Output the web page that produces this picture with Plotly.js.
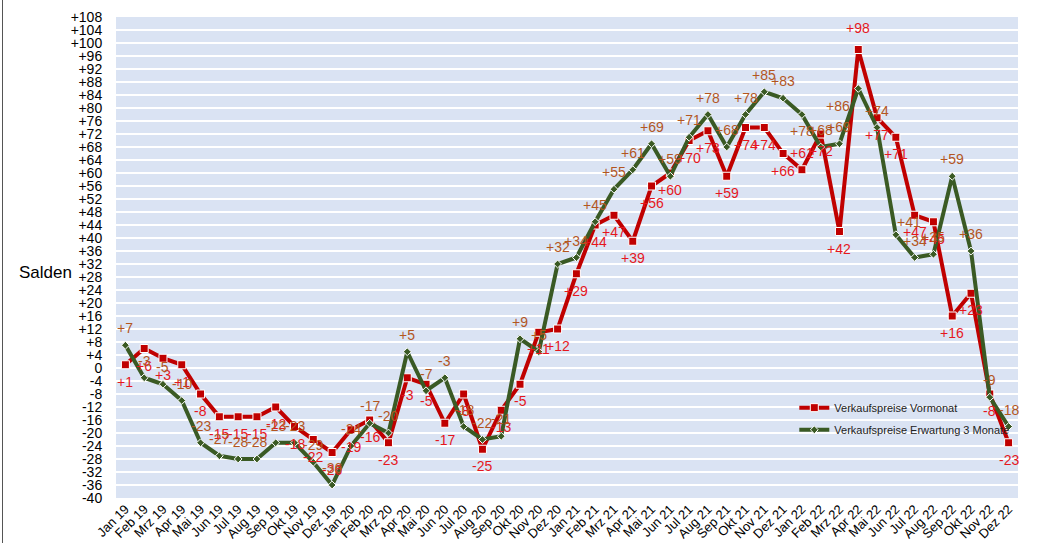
<!DOCTYPE html>
<html>
<head>
<meta charset="utf-8">
<script src="https://cdn.plot.ly/plotly-3.0.1.min.js"></script>
<style>
html,body{margin:0;padding:0;background:#fff;}
#chart{width:1038px;height:543px;}
#frame{position:absolute;left:2px;top:0;width:1px;height:543px;background:#555;}
</style>
</head>
<body>
<div id="frame"></div>
<div id="chart"></div>
<script>
var months = ["Jan 19","Feb 19","Mrz 19","Apr 19","Mai 19","Jun 19","Jul 19","Aug 19","Sep 19","Okt 19","Nov 19","Dez 19",
"Jan 20","Feb 20","Mrz 20","Apr 20","Mai 20","Jun 20","Jul 20","Aug 20","Sep 20","Okt 20","Nov 20","Dez 20",
"Jan 21","Feb 21","Mrz 21","Apr 21","Mai 21","Jun 21","Jul 21","Aug 21","Sep 21","Okt 21","Nov 21","Dez 21",
"Jan 22","Feb 22","Mrz 22","Apr 22","Mai 22","Jun 22","Jul 22","Aug 22","Sep 22","Okt 22","Nov 22","Dez 22"];

var vormonat = [1,6,3,1,-8,-15,-15,-15,-12,-18,-22,-26,
-19,-16,-23,-3,-5,-17,-8,-25,-13,-5,11,12,
29,44,47,39,56,60,70,73,59,74,74,66,
61,72,42,98,77,71,47,45,16,23,-8,-23];

var erwartung = [7,-3,-5,-10,-23,-27,-28,-28,-23,-23,-29,-36,
-24,-17,-20,5,-7,-3,-18,-22,-21,9,5,32,
34,45,55,61,69,59,71,78,68,78,85,83,
78,68,69,86,74,41,34,35,59,36,-9,-18];

var yTickVals = [-40,-36,-32,-28,-24,-20,-16,-12,-8,-4,0,4,8,12,16,20,24,28,32,36,40,44,48,52,56,60,64,68,72,76,80,84,88,92,96,100,104,108];
var yTickText = ["-40","-36","-32","-28","-24","-20","-16","-12","-8","-4","0","+4","+8","+12","+16","+20","+24","+28","+32","+36","+40","+44","+48","+52","+56","+60","+64","+68","+72","+76","+80","+84","+88","+92","+96","+100","+104","+108"];

var seriesNames = ["Verkaufspreise Vormonat","Verkaufspreise Erwartung 3 Monate"];

function fmt(v){ return v > 0 ? "+" + v : String(v); }

var FONT = "Arial, 'Liberation Sans', sans-serif";
var RED = "#C00000", GREEN = "#3A5A24";
var RED_TXT = "#E5171D", BROWN_TXT = "#B3561F";

// label placement (style): red below, green above, with a few exceptions
var OFF = 17;
var redShift = {36: [0, OFF], 39: [0, 22]};
var greenShift = {36: [0, -16], 39: [-20, -17], 41: [13, 13]};

var annotations = [];
function addLabels(vals, color, defShift, overrides){
  vals.forEach(function(v, i){
    var s = overrides[i] || [0, defShift];
    annotations.push({x: months[i], y: v, xref: "x", yref: "y", text: fmt(v), showarrow: false,
      xanchor: "center", yanchor: "middle", xshift: s[0], yshift: s[1],
      font: {family: FONT, size: 14, color: color}});
  });
}
addLabels(vormonat, RED_TXT, -OFF, redShift);
addLabels(erwartung, BROWN_TXT, OFF, greenShift);

annotations.push({text: "Salden", xref: "paper", yref: "paper", x: -0.078, y: (498 - 272) / 481,
  xanchor: "center", yanchor: "middle", showarrow: false, font: {family: FONT, size: 17, color: "#000"}});

var traces = [
  {x: months, y: vormonat, type: "scatter", mode: "lines+markers", name: seriesNames[0],
   line: {color: RED, width: 4},
   marker: {symbol: "square", size: 8, color: RED, line: {color: "#fff", width: 1}},
   legend: "legend"},
  {x: months, y: erwartung, type: "scatter", mode: "lines+markers", name: seriesNames[1],
   line: {color: GREEN, width: 4},
   marker: {symbol: "diamond", size: 6, color: GREEN, line: {color: "#fff", width: 1}},
   legend: "legend2"}
];

var layout = {
  width: 1038, height: 543,
  margin: {l: 116, r: 20, t: 17, b: 45},
  paper_bgcolor: "rgba(0,0,0,0)",
  plot_bgcolor: "#DAE3F3",
  font: {family: FONT, color: "#000"},
  xaxis: {type: "category", range: [-0.5, 47.5], showgrid: false, zeroline: false, showline: false,
          tickangle: -45, tickfont: {size: 13, color: "#000"}, ticks: "", fixedrange: true},
  yaxis: {range: [-40, 108], tickvals: yTickVals, ticktext: yTickText, showgrid: true,
          gridcolor: "#FFFFFF", gridwidth: 1.5, zeroline: false, showline: false,
          ticks: "outside", ticklen: 10, tickcolor: "rgba(0,0,0,0)",
          tickfont: {size: 14, color: "#000"}, fixedrange: true},
  showlegend: true,
  legend: {x: 0.752, y: 0.218, xanchor: "left", yanchor: "top", bgcolor: "rgba(0,0,0,0)",
           font: {size: 11, color: "#222"}},
  legend2: {x: 0.752, y: 0.172, xanchor: "left", yanchor: "top", bgcolor: "rgba(0,0,0,0)",
           font: {size: 11, color: "#222"}},
  annotations: annotations
};

Plotly.newPlot("chart", traces, layout, {displayModeBar: false, staticPlot: true});
</script>
</body>
</html>
